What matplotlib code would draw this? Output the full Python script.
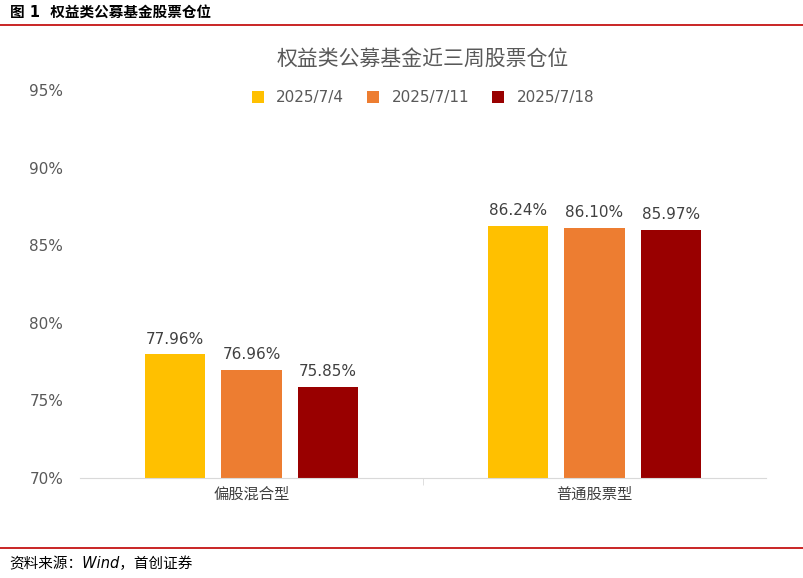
import matplotlib
matplotlib.use("Agg")
import matplotlib.pyplot as plt
from matplotlib.lines import Line2D

plt.rcParams['font.family'] = ['DejaVu Sans', 'Noto Sans CJK SC']

categories = ['偏股混合型', '普通股票型']
series_names = ['2025/7/4', '2025/7/11', '2025/7/18']
values = [[77.96, 86.24], [76.96, 86.10], [75.85, 85.97]]
colors = ['#FFC000', '#ED7D31', '#990000']
yticks = [70, 75, 80, 85, 90, 95]

fig = plt.figure(figsize=(8.04, 5.78), dpi=100)
fig.text(0.012, 1-12/578, '图 1  权益类公募基金股票仓位', fontsize=10.5, fontweight='bold', va='center')
fig.add_artist(Line2D([0.0, 1.0], [1-25/578, 1-25/578], color='#C00000', lw=1.2))
fig.add_artist(Line2D([0.0, 1.0], [0.052, 0.052], color='#C00000', lw=1.2))
fig.text(0.012, 0.025, '资料来源：Wind，首创证券', fontsize=10.5, style='italic', va='center')

ax = fig.add_axes([80/804, 1-478/578, 686/804, 388/578])
w = 0.175
off = 0.222
for i, (name, vals) in enumerate(zip(series_names, values)):
    xs = [c + (i-1)*off for c in range(len(categories))]
    ax.bar(xs, [v-70 for v in vals], bottom=70, width=w, color=colors[i], label=name)
    for x, v in zip(xs, vals):
        ax.text(x, v+0.5, f'{v:.2f}%', ha='center', va='bottom', fontsize=11, color='#404040')

ax.set_xlim(-0.5, 1.5)
ax.set_ylim(70, 95)
ax.set_yticks(yticks)
ax.set_yticklabels([f'{t}%' for t in yticks], fontsize=11, color='#595959')
ax.set_xticks(range(len(categories)))
ax.set_xticklabels(categories, fontsize=11, color='#404040')
ax.tick_params(axis='y', length=0, pad=12)
ax.tick_params(axis='x', length=0, pad=6)
ax.set_xticks([0.5], minor=True)
ax.tick_params(axis='x', which='minor', length=5, color='#D9D9D9')
for s in ['top', 'right', 'left']:
    ax.spines[s].set_visible(False)
ax.spines['bottom'].set_color('#D9D9D9')
ax.set_title('权益类公募基金近三周股票仓位', fontsize=15, color='#595959', pad=18)
ax.legend(loc='upper center', bbox_to_anchor=(0.5, 1.035), ncol=3, frameon=False,
          fontsize=11, handlelength=0.8, handleheight=0.8, columnspacing=1.5,
          labelcolor='#595959')
fig.savefig('out.png', dpi=100)
